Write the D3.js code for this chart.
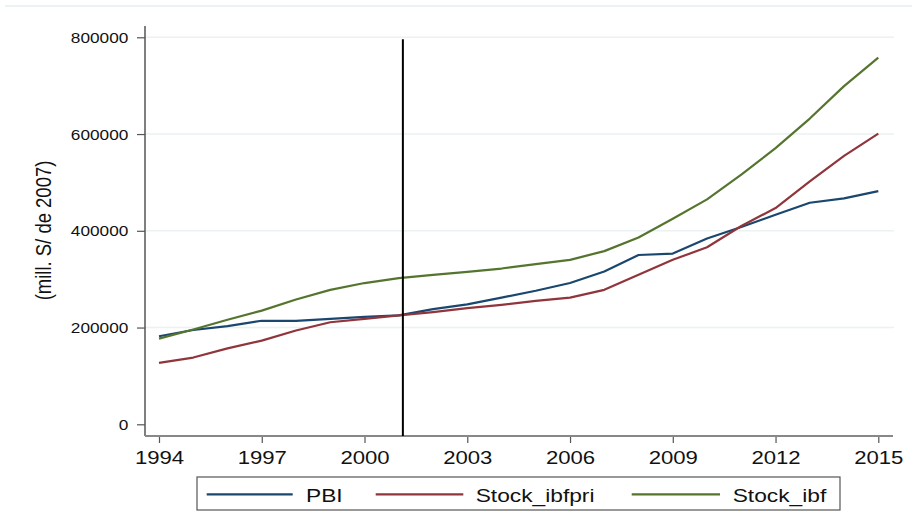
<!DOCTYPE html>
<head>
    <meta charset="utf-8">
    <title>PBI y stock</title>
    <script src="https://d3js.org/d3.v7.min.js"></script>
    <style>
        body { margin: 0; background: #fff; }
        svg { display: block; font-family: "Liberation Sans", Arial, sans-serif; }
    </style>
</head>
<body>
    <svg class="chart" width="912" height="531"></svg>
    <script>
        // data (values in mill. S/ de 2007)
        var years = [1994,1995,1996,1997,1998,1999,2000,2001,2002,2003,2004,
                     2005,2006,2007,2008,2009,2010,2011,2012,2013,2014,2015];
        var pbi = [182000,195000,203000,214000,214000,218000,222000,225000,238000,248000,262000,
                   276000,292000,316000,350000,353000,384000,408000,433000,458000,467000,482000];
        var stockIbfpri = [127000,138000,157000,173000,194000,211000,218000,225000,232000,240000,247000,
                           255000,262000,278000,309000,340000,366000,410000,447000,502000,555000,601000];
        var stockIbf = [177000,196000,216000,235000,258000,278000,292000,302000,309000,315000,322000,
                        331000,340000,358000,386000,425000,465000,516000,571000,632000,699000,758000];
        var seriesNames = ["PBI", "Stock_ibfpri", "Stock_ibf"];
        var seriesColors = ["#1a476f", "#90353b", "#55752f"];
        var yTicks = [0, 200000, 400000, 600000, 800000];
        var xTicks = [1994, 1997, 2000, 2003, 2006, 2009, 2012, 2015];
        var markYear = 2001.12;   // vertical reference line
        var yTitle = "(mill. S/ de 2007)";

        var svg = d3.select("svg");
        var stretch = 1.23;  // the original is a bit wide

        var x = d3.scaleLinear().domain([1994, 2015]).range([159, 878.3]);
        var y = d3.scaleLinear().domain([0, 800000]).range([424.3, 37.3]);

        var plotLeft = 145, plotBottom = 436, plotRight = 893, plotTop = 26;

        // faint border at top
        svg.append("line").attr("x1", 5).attr("x2", 912).attr("y1", 6).attr("y2", 6)
            .attr("stroke", "#e6eef0").attr("stroke-width", 1.5);

        // gridlines
        svg.append("g").selectAll("line").data(yTicks.filter(function(d){ return d > 0; }))
            .enter().append("line")
            .attr("x1", plotLeft).attr("x2", 894)
            .attr("y1", function(d){ return y(d); }).attr("y2", function(d){ return y(d); })
            .attr("stroke", "#eaf2f3").attr("stroke-width", 1.5);

        // y axis
        var gy = svg.append("g").attr("transform", "translate(" + plotLeft + ",0)")
            .call(d3.axisLeft(y).tickValues(yTicks).tickFormat(d3.format("d")).tickSize(8).tickSizeOuter(0));
        gy.select(".domain").remove();
        gy.selectAll(".tick line").attr("stroke", "#555").attr("stroke-width", 1.2);
        gy.selectAll(".tick text")
            .attr("x", -(plotLeft - 128.3) / stretch).attr("dy", null).attr("y", 5)
            .attr("transform", "scale(" + stretch + ",1)")
            .attr("font-size", 14).attr("font-family", "Liberation Sans, Arial, sans-serif").attr("fill", "#111");

        // x axis
        var gx = svg.append("g").attr("transform", "translate(0," + plotBottom + ")")
            .call(d3.axisBottom(x).tickValues(xTicks).tickFormat(d3.format("d")).tickSize(7).tickSizeOuter(0));
        gx.select(".domain").remove();
        gx.selectAll(".tick line").attr("stroke", "#555").attr("stroke-width", 1.2);
        gx.selectAll(".tick text")
            .attr("y", 28).attr("dy", null)
            .attr("transform", "scale(" + stretch + ",1)")
            .attr("font-size", 18).attr("font-family", "Liberation Sans, Arial, sans-serif").attr("fill", "#111");

        // axis lines
        svg.append("line").attr("x1", plotLeft).attr("x2", plotLeft).attr("y1", plotTop).attr("y2", plotBottom)
            .attr("stroke", "#555").attr("stroke-width", 1.5);
        svg.append("line").attr("x1", plotLeft).attr("x2", plotRight).attr("y1", plotBottom).attr("y2", plotBottom)
            .attr("stroke", "#888").attr("stroke-width", 2);

        // y title
        svg.append("text")
            .attr("transform", "translate(51,230.5) scale(" + stretch + ",1) rotate(-90)")
            .attr("text-anchor", "middle").attr("font-size", 18.5).attr("fill", "#111")
            .text(yTitle);

        // lines
        var allSeries = [pbi, stockIbfpri, stockIbf];
        var line = d3.line().x(function(d, i){ return x(years[i]); }).y(function(d){ return y(d); });
        svg.append("g").selectAll("path").data(allSeries).enter().append("path")
            .attr("d", line)
            .attr("fill", "none")
            .attr("stroke", function(d, i){ return seriesColors[i]; })
            .attr("stroke-width", 2.2)
            .attr("stroke-linejoin", "round");

        // vertical marker
        svg.append("line").attr("x1", x(markYear)).attr("x2", x(markYear))
            .attr("y1", y(796000)).attr("y2", plotBottom)
            .attr("stroke", "#000").attr("stroke-width", 2);

        // legend
        svg.append("rect").attr("x", 197).attr("y", 477).attr("width", 643).attr("height", 33)
            .attr("fill", "#fff").attr("stroke", "#555").attr("stroke-width", 1.2);
        var legX = [[206.7, 292.7, 306], [375.7, 463.3, 475.7], [631.7, 720, 732.7]];
        var leg = svg.append("g").selectAll("g").data(seriesNames).enter().append("g");
        leg.append("line")
            .attr("x1", function(d, i){ return legX[i][0]; }).attr("x2", function(d, i){ return legX[i][1]; })
            .attr("y1", 494.3).attr("y2", 494.3)
            .attr("stroke", function(d, i){ return seriesColors[i]; }).attr("stroke-width", 2.2);
        leg.append("text")
            .attr("transform", function(d, i){ return "translate(" + legX[i][2] + ",501.5) scale(" + stretch + ",1)"; })
            .attr("font-size", 18.5).attr("fill", "#111")
            .text(function(d){ return d; });
    </script>
</body>
